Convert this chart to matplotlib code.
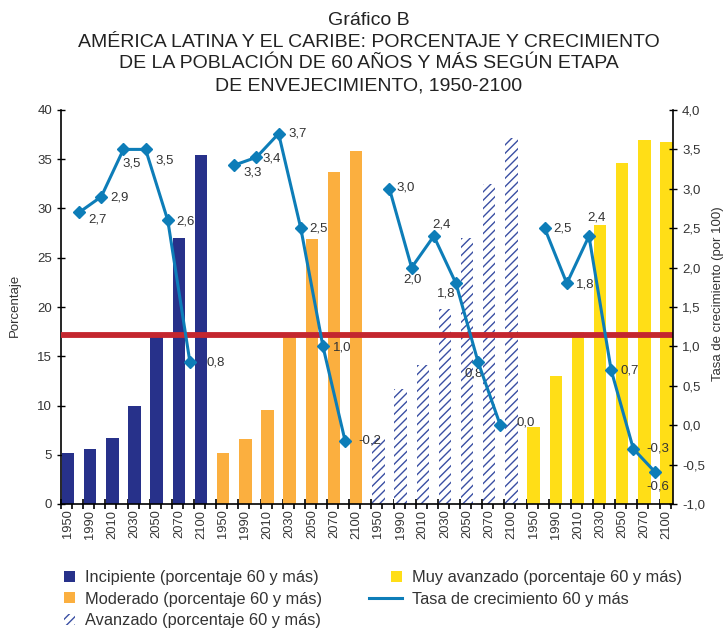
import matplotlib
matplotlib.use("Agg")
import matplotlib.pyplot as plt
import numpy as np
from matplotlib.patches import Rectangle
from matplotlib.lines import Line2D
from matplotlib.legend_handler import HandlerPatch
from matplotlib.ticker import FuncFormatter

plt.rcParams['font.family'] = ['Liberation Sans', 'DejaVu Sans']
plt.rcParams['hatch.linewidth'] = 1.0

# data: percentage 60+ per stage and year
anios = ['1950', '1990', '2010', '2030', '2050', '2070', '2100']
etapas = ['Incipiente', 'Moderado', 'Avanzado', 'Muy avanzado']
incipiente = [5.2, 5.6, 6.7, 10.0, 17.0, 27.0, 35.4]
moderado = [5.2, 6.6, 9.5, 17.0, 26.9, 33.7, 35.8]
avanzado = [6.7, 11.7, 14.1, 19.8, 27.0, 32.5, 37.2]
muy_avanzado = [7.8, 13.0, 17.5, 28.3, 34.6, 37.0, 36.8]

# growth rate 60+ (per 100), one value per period
tasa_incipiente = [2.7, 2.9, 3.5, 3.5, 2.6, 0.8]
tasa_moderado = [3.3, 3.4, 3.7, 2.5, 1.0, -0.2]
tasa_avanzado = [3.0, 2.0, 2.4, 1.8, 0.8, 0.0]
tasa_muy_avanzado = [2.5, 1.8, 2.4, 0.7, -0.3, -0.6]

linea_roja = 17.15

porcentajes = [incipiente, moderado, avanzado, muy_avanzado]
tasas = [tasa_incipiente, tasa_moderado, tasa_avanzado, tasa_muy_avanzado]

colores = ['#27318A', '#FBAF3F', 'white', '#FFDE17']
azul_linea = '#0D7DB8'
txt = '#333333'

# label offsets in pixels (dx, dy, ha)
offsets = [
    [(9, -7, 'left'), (9, -1, 'left'), (-1, -14, 'left'), (10, -11, 'left'), (9, -1, 'left'), (17, 0, 'left')],
    [(9, -7, 'left'), (6, -1, 'left'), (10, 0, 'left'), (9, 0, 'left'), (10, -1, 'left'), (13, 0, 'left')],
    [(7, 1, 'left'), (1, -12, 'center'), (-1, 12, 'left'), (-1, -10, 'right'), (-4, -11, 'center'), (16, 3, 'left')],
    [(9, 0, 'left'), (9, -1, 'left'), (-2, 19, 'left'), (9, 0, 'left'), (13, 0, 'left'), (-9, -14, 'left')],
]

fig = plt.figure(figsize=(7.27, 6.29), dpi=100)
ax = fig.add_axes([61/727, 1-504/629, 612/727, 394/629])
ax2 = ax.twinx()

n = len(anios)
handles = []
for g, vals in enumerate(porcentajes):
    x = g*n + np.arange(n)
    if g == 2:
        b = ax.bar(x, vals, 0.56, color='white', edgecolor='#3A4FA3', linewidth=0,
                   hatch='////', zorder=2)
    else:
        b = ax.bar(x, vals, 0.56, color=colores[g], linewidth=0, zorder=2)
    handles.append(b.patches[0])

ax.axhline(linea_roja, color='#C4262E', lw=4.2, zorder=3)

for g, t in enumerate(tasas):
    x = g*n + np.arange(len(t)) + 0.5
    ax2.plot(x, t, color=azul_linea, lw=2.2, marker='D', markersize=6.5, zorder=4)
    for xi, yi, (dx, dy, ha) in zip(x, t, offsets[g]):
        ax2.annotate(f'{yi:.1f}'.replace('.', ','), (xi, yi), xytext=(dx, dy),
                     textcoords='offset pixels', ha=ha, va='center', fontsize=9.5, color=txt)

xmin, xmax = -0.316, 27.29
ax.set_xlim(xmin, xmax)
ax.set_ylim(0, 40)
ax2.set_ylim(-1, 4)
ax.set_yticks(np.arange(0, 41, 5))
ax2.set_yticks(np.arange(-1, 4.01, 0.5))
ax2.yaxis.set_major_formatter(FuncFormatter(lambda v, p: f'{v:.1f}'.replace('.', ',').replace('-0,0', '0,0')))

ax.set_xticks(np.arange(4*n))
ax.set_xticklabels(anios*4, rotation=90, fontsize=9.3, color=txt)
ax.set_xticks(np.arange(xmin, xmax + 0.01, 0.5), minor=True)
ax.tick_params(axis='x', which='major', length=0, pad=4)
ax.tick_params(axis='x', which='minor', length=7, direction='inout', width=1.2)
ax.tick_params(axis='y', length=6, direction='inout', width=1, labelsize=9.5, labelcolor=txt)
ax2.tick_params(axis='y', length=6, direction='inout', width=1, labelsize=9.5, labelcolor=txt)

for a in (ax, ax2):
    a.spines['top'].set_visible(False)
    for s in ('left', 'right', 'bottom'):
        a.spines[s].set_linewidth(1.2)
ax.spines['right'].set_visible(False)
ax2.spines['left'].set_visible(False)
ax2.spines['bottom'].set_visible(False)

fig.text(15/727, 1-305/629, 'Porcentaje', rotation=90, ha='center', va='center', fontsize=9.5, color=txt)
fig.text(718/727, 1-294/629, 'Tasa de crecimiento (por 100)', rotation=90, ha='center', va='center',
         fontsize=9.5, color=txt)

fig.text(369/727, 1-53/629,
         'Gráfico B\nAMÉRICA LATINA Y EL CARIBE: PORCENTAJE Y CRECIMIENTO\n'
         'DE LA POBLACIÓN DE 60 AÑOS Y MÁS SEGÚN ETAPA\nDE ENVEJECIMIENTO, 1950-2100',
         ha='center', va='center', multialignment='center', fontsize=14, color='#222222',
         linespacing=1.38)


def cuadro(legend, orig_handle, xdescent, ydescent, width, height, fontsize):
    h = height
    return Rectangle((width - h - xdescent, -ydescent), h, h)


labels = [f'{e} (porcentaje 60 y más)' for e in etapas] + ['Tasa de crecimiento 60 y más']
hm = {h: HandlerPatch(patch_func=cuadro) for h in handles}
linea_ley = Line2D([], [], color=azul_linea, lw=2.2)
fig.legend(handles + [linea_ley], labels, ncol=2, loc='upper left', bbox_to_anchor=(42/727, 1-570/629),
           frameon=False, fontsize=11.8, handlelength=2.0, handleheight=0.65, handletextpad=0.6,
           labelspacing=0.4, columnspacing=2.9, borderpad=0, borderaxespad=0, handler_map=hm,
           labelcolor=txt)

fig.savefig('out.png', dpi=100)
